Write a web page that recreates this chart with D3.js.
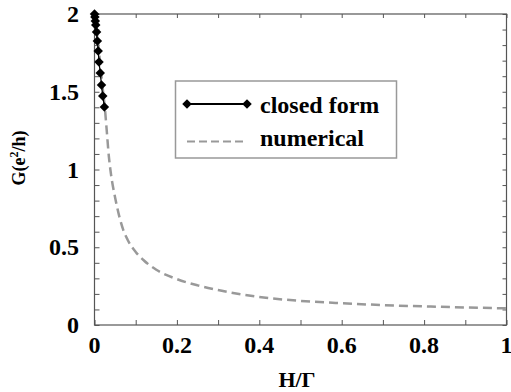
<!DOCTYPE html>
<html>
<head>
<meta charset="utf-8">
<script src="https://cdn.jsdelivr.net/npm/d3@7"></script>
<style>
  body { margin:0; background:#fff; }
  svg text { font-family:'Liberation Serif', 'Times New Roman', Times, serif; font-weight:bold; fill:#000; }
</style>
</head>
<body>
<div id="canvas" class="canvas"></div>
<script>
// --- data
var closedX = [0, 0.001, 0.002, 0.003, 0.005, 0.007, 0.009, 0.011, 0.014, 0.017, 0.020, 0.024];
var closedG = [2.0, 1.98, 1.955, 1.93, 1.884, 1.826, 1.762, 1.691, 1.62, 1.543, 1.473, 1.402];

var numX = [0, 0.005, 0.01, 0.015, 0.02, 0.025, 0.03, 0.035, 0.04, 0.05, 0.06, 0.07, 0.08, 0.1, 0.12, 0.15, 0.2, 0.25, 0.3, 0.4, 0.5, 0.6, 0.7, 0.8, 0.9, 1.0];
var numG = [2.0, 1.9, 1.78, 1.65, 1.52, 1.4, 1.24, 1.08, 0.97, 0.82, 0.70, 0.61, 0.55, 0.47, 0.415, 0.355, 0.295, 0.255, 0.225, 0.18, 0.155, 0.14, 0.128, 0.12, 0.113, 0.107];

var xTicks = [0, 0.2, 0.4, 0.6, 0.8, 1];
var xTickLabels = ['0', '0.2', '0.4', '0.6', '0.8', '1'];
var yTicks = [0, 0.5, 1, 1.5, 2];
var yTickLabels = ['0', '0.5', '1', '1.5', '2'];
var legendNames = ['closed form', 'numerical'];

var W = 511, H = 392;
var M = {top:14, right:4.5, bottom:67, left:94.5};
var FONT = "'Liberation Serif', 'Times New Roman', serif";

var svg = d3.select('.canvas')
    .append('svg')
    .attr('width', W)
    .attr('height', H);

var x = d3.scaleLinear().domain([0, 1]).range([M.left, W - M.right]);
var y = d3.scaleLinear().domain([0, 2]).range([H - M.bottom, M.top]);

// --- inward ticks on every side
var minorX = d3.range(0, 1.0001, 0.1);
var minorY = d3.range(0, 2.0001, 0.1);
var axisColor = '#555';

svg.append('g').call(d3.axisTop(x).tickValues(minorX).tickSize(5).tickFormat(''))
    .attr('transform', 'translate(0,' + y(0) + ')');
svg.append('g').call(d3.axisBottom(x).tickValues(minorX).tickSize(4).tickFormat(''))
    .attr('transform', 'translate(0,' + y(2) + ')');
svg.append('g').call(d3.axisRight(y).tickValues(minorY).tickSize(5).tickFormat(''))
    .attr('transform', 'translate(' + x(0) + ',0)');
svg.append('g').call(d3.axisLeft(y).tickValues(minorY).tickSize(4).tickFormat(''))
    .attr('transform', 'translate(' + x(1) + ',0)');
svg.selectAll('.domain').remove();
svg.selectAll('.tick line').attr('stroke', axisColor);

svg.append('rect')
    .attr('x', x(0)).attr('y', y(2))
    .attr('width', x(1) - x(0)).attr('height', y(0) - y(2))
    .attr('fill', 'none').attr('stroke', axisColor).attr('stroke-width', 1.2);

// --- tick labels
svg.selectAll('.xlab').data(xTicks).enter().append('text')
    .attr('x', function(d){ return x(d); })
    .attr('y', 353)
    .attr('text-anchor', 'middle')
    .attr('font-family', FONT).attr('font-weight', 'bold').attr('font-size', 24)
    .text(function(d, i){ return xTickLabels[i]; });

svg.selectAll('.ylab').data(yTicks).enter().append('text')
    .attr('x', 79)
    .attr('y', function(d){ return y(d) + 8; })
    .attr('text-anchor', 'end')
    .attr('font-family', FONT).attr('font-weight', 'bold').attr('font-size', 24)
    .text(function(d, i){ return yTickLabels[i]; });

// --- axis titles
svg.append('text')
    .attr('x', 297).attr('y', 387)
    .attr('text-anchor', 'middle')
    .attr('font-family', FONT).attr('font-weight', 'bold').attr('font-size', 22)
    .text('H/\u0393');

var yt = svg.append('text')
    .attr('transform', 'translate(25,158) rotate(-90)')
    .attr('text-anchor', 'middle')
    .attr('font-family', FONT).attr('font-weight', 'bold').attr('font-size', 18);
yt.append('tspan').text('G(e');
yt.append('tspan').attr('dy', -7).attr('font-size', 12).text('2');
yt.append('tspan').attr('dy', 7).text('/h)');

// --- numerical curve
var numData = numX.map(function(v, i){ return {a:v, b:numG[i]}; });
var line = d3.line()
    .x(function(d){ return x(d.a); })
    .y(function(d){ return y(d.b); })
    .curve(d3.curveMonotoneX);

svg.append('path')
    .datum(numData)
    .attr('d', line)
    .attr('fill', 'none')
    .attr('stroke', '#999')
    .attr('stroke-width', 2.5)
    .attr('stroke-dasharray', '9,5');

// --- closed form
var closedData = closedX.map(function(v, i){ return {a:v, b:closedG[i]}; });
svg.append('path')
    .datum(closedData)
    .attr('d', d3.line().x(function(d){ return x(d.a); }).y(function(d){ return y(d.b); }))
    .attr('fill', 'none')
    .attr('stroke', '#000')
    .attr('stroke-width', 1.2);

var diamond = d3.symbol().type(d3.symbolSquare).size(45);
svg.selectAll('.dia').data(closedData).enter().append('path')
    .attr('d', diamond)
    .attr('transform', function(d){ return 'translate(' + x(d.a) + ',' + y(d.b) + ') rotate(45)'; })
    .attr('fill', '#000');

// --- legend
var lg = svg.append('g');
lg.append('rect')
    .attr('x', 175.5).attr('y', 81)
    .attr('width', 221).attr('height', 77)
    .attr('fill', '#fff').attr('stroke', '#999').attr('stroke-width', 1.5);

lg.append('line')
    .attr('x1', 187).attr('x2', 247).attr('y1', 104).attr('y2', 104)
    .attr('stroke', '#000').attr('stroke-width', 2.2);
[187, 247].forEach(function(px){
    lg.append('path').attr('d', diamond)
      .attr('transform', 'translate(' + px + ',104) rotate(45)')
      .attr('fill', '#000');
});
lg.append('line')
    .attr('x1', 187).attr('x2', 247).attr('y1', 141.5).attr('y2', 141.5)
    .attr('stroke', '#999').attr('stroke-width', 2)
    .attr('stroke-dasharray', '8,4');

lg.selectAll('.lt').data(legendNames).enter().append('text')
    .attr('x', 260)
    .attr('y', function(d, i){ return i === 0 ? 113 : 146; })
    .attr('font-family', FONT).attr('font-weight', 'bold').attr('font-size', 24)
    .text(function(d){ return d; });
</script>
</body>
</html>
